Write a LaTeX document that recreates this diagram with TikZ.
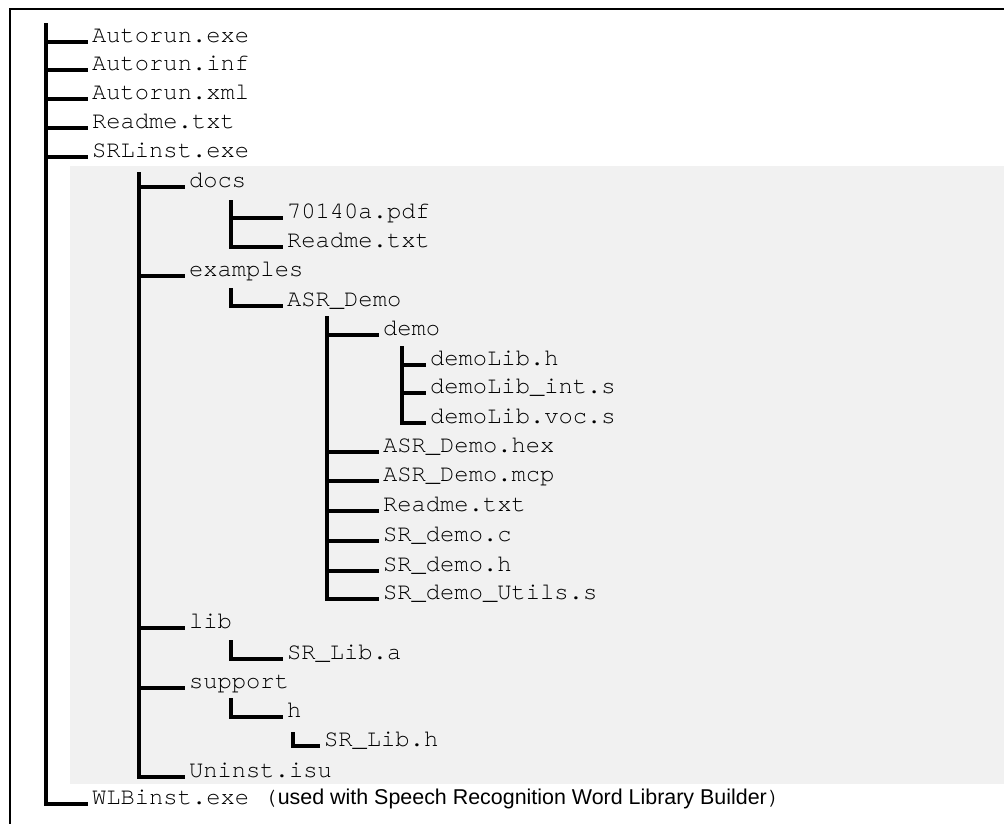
\documentclass[tikz,border=0pt]{standalone}
\usepackage{fontspec}
\setmainfont{Liberation Serif}
\setmonofont{TeX Gyre Cursor}
\setsansfont{Liberation Sans}
\definecolor{panel}{HTML}{F1F1F1}
\tikzset{
  item/.style={anchor=base west, inner xsep=1.5pt, inner ysep=0pt, font=\ttfamily\fontsize{10}{12}\selectfont, text=black},
  branch/.style={line width=1.35pt, line join=miter},
  frame/.style={line width=0.9pt}
}
\newcommand{\notefont}{\sffamily\fontsize{9}{11}\selectfont}
\newcommand{\codefont}{\ttfamily\fontsize{10}{12}\selectfont}
\begin{document}
\begin{tikzpicture}[x=0.42pt, y=-0.42pt]
\useasboundingbox (0,0) rectangle (1004,823);
% grey panel and frame
\fill[panel] (70,166) rectangle (1004,784);
\draw[frame] (1010,9) -- (10,9) -- (10,830);

% level 0
\node[item] (autoexe) at (88,42) {Autorun.exe};
\node[item] (autoinf) at (88,70) {Autorun.inf};
\node[item] (autoxml) at (88,99) {Autorun.xml};
\node[item] (readme0) at (88,128) {Readme.txt};
\node[item] (srlinst) at (88,157) {SRLinst.exe};
\node[item] (wlb) at (88,804) {WLBinst.exe (\notefont used with Speech Recognition Word Library Builder\codefont)};

% level 1
\node[item] (docs) at (185,187) {docs};
\node[item] (examples) at (185,276) {examples};
\node[item] (lib) at (185,628) {lib};
\node[item] (support) at (185,688) {support};
\node[item] (uninst) at (185,777) {Uninst.isu};

% level 2
\node[item] (pdf) at (283,218) {70140a.pdf};
\node[item] (readme1) at (283,247) {Readme.txt};
\node[item] (asrdemo) at (283,306) {ASR\_Demo};
\node[item] (srliba) at (283,659) {SR\_Lib.a};
\node[item] (h) at (283,717) {h};

% level 3
\node[item] (demo) at (379,335) {demo};
\node[item] (hex) at (379,452) {ASR\_Demo.hex};
\node[item] (mcp) at (379,481) {ASR\_Demo.mcp};
\node[item] (readme2) at (379,511) {Readme.txt};
\node[item] (srdemoc) at (379,541) {SR\_demo.c};
\node[item] (srdemoh) at (379,571) {SR\_demo.h};
\node[item] (utils) at (379,599) {SR\_demo\_Utils.s};
\node[item] (srlibh) at (320,746) {SR\_Lib.h};

% level 4
\node[item] (demolibh) at (426,365) {demoLib.h};
\node[item] (demolibint) at (426,393) {demoLib\_int.s};
\node[item] (demolibvoc) at (426,423) {demoLib.voc.s};

% vertical tops
\coordinate (t0) at (46,23);
\coordinate (t1) at (139,172);
\coordinate (tdocs) at (231,200);
\coordinate (tex) at (231,288);
\coordinate (tasr) at (327,316);
\coordinate (tdemo) at (402,346);
\coordinate (tlib) at (231,640);
\coordinate (tsup) at (231,698);
\coordinate (th) at (293,732);

% connectors
\foreach \c in {autoexe,autoinf,autoxml,readme0,srlinst,wlb}
  \draw[branch] (t0) |- (\c.base west);
\foreach \c in {docs,examples,lib,support,uninst}
  \draw[branch] (t1) |- (\c.base west);
\foreach \c in {pdf,readme1}
  \draw[branch] (tdocs) |- (\c.base west);
\draw[branch] (tex) |- (asrdemo.base west);
\foreach \c in {demo,hex,mcp,readme2,srdemoc,srdemoh,utils}
  \draw[branch] (tasr) |- (\c.base west);
\foreach \c in {demolibh,demolibint,demolibvoc}
  \draw[branch] (tdemo) |- (\c.base west);
\draw[branch] (tlib) |- (srliba.base west);
\draw[branch] (tsup) |- (h.base west);
\draw[branch] (th) |- (srlibh.base west);
\end{tikzpicture}
\end{document}
